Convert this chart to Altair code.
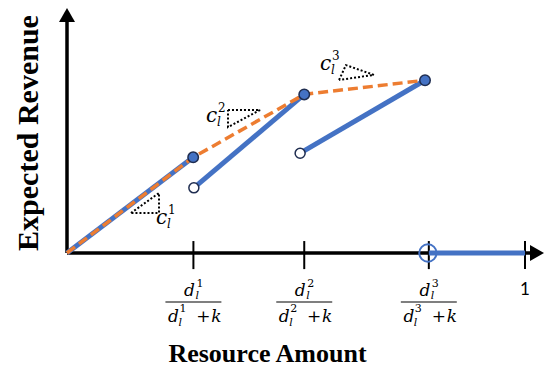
import altair as alt
import pandas as pd

# ---------------- data ----------------
# resource-axis ticks: d_l^i/(d_l^i+k) for i=1..3, and 1
tick_x = [0.276, 0.518, 0.790, 1.0]
frac_idx = ["1", "2", "3"]

# blue piecewise-linear expected revenue segments
seg_id = [1, 1, 2, 2, 3, 3, 4, 4]
seg_x = [0.0, 0.2755, 0.277, 0.518, 0.509, 0.7817, 0.790, 1.0]
seg_y = [0.0, 0.392, 0.267, 0.650, 0.409, 0.708, 0.0, 0.0]

# orange dashed concave envelope
env_x = [0.0, 0.2755, 0.518, 0.7817]
env_y = [0.0, 0.392, 0.650, 0.708]

# closed (filled) and open segment endpoints
closed_x = [0.2755, 0.518, 0.7817]
closed_y = [0.392, 0.650, 0.708]
open_x = [0.277, 0.509]
open_y = [0.267, 0.409]
big_open_x = [0.788]
big_open_y = [0.0]

# dotted slope triangles (closed paths)
tri_id = [1, 1, 1, 1, 2, 2, 2, 2, 3, 3, 3, 3]
tri_ord = [0, 1, 2, 3] * 3
tri_x = [0.1397, 0.2009, 0.2009, 0.1397,
         0.3515, 0.4214, 0.3515, 0.3515,
         0.594, 0.609, 0.670, 0.594]
tri_y = [0.164, 0.246, 0.164, 0.164,
         0.586, 0.586, 0.516, 0.586,
         0.709, 0.770, 0.730, 0.709]

# slope labels c_l^i
slope_x = [0.1943, 0.3035, 0.5524]
slope_y = [0.119, 0.537, 0.750]
slope_idx = ["1", "2", "3"]

# axis extents (with arrowheads)
x_axis_end = 1.0262
y_axis_end = 0.9754
tick_top, tick_bot = 0.049, -0.066
frac_half = 0.0611

# ---------------- styling ----------------
BLUE = "#4472C4"
ORANGE = "#ED7D31"
NAVY = "#1F2D50"
MATH = "DejaVu Serif"
TITLE = "Liberation Serif"

W, H = 536, 361
xs = alt.Scale(domain=[-59 / 458, 477 / 458], nice=False, zero=False)
ys = alt.Scale(domain=[-116 / 244, 245 / 244], nice=False, zero=False)


def X(f="x"):
    return alt.X(f"{f}:Q", scale=xs, axis=None)


def Y(f="y"):
    return alt.Y(f"{f}:Q", scale=ys, axis=None)


segs = pd.DataFrame({"seg": seg_id, "x": seg_x, "y": seg_y})
env = pd.DataFrame({"x": env_x, "y": env_y})
closed = pd.DataFrame({"x": closed_x, "y": closed_y})
opened = pd.DataFrame({"x": open_x, "y": open_y})
bigopen = pd.DataFrame({"x": big_open_x, "y": big_open_y})
tris = pd.DataFrame({"t": tri_id, "o": tri_ord, "x": tri_x, "y": tri_y})
slopes = pd.DataFrame({"x": slope_x, "y": slope_y, "i": slope_idx})
ticks = pd.DataFrame({"x": tick_x, "y": [tick_top] * 4, "y2": [tick_bot] * 4})
fracs = pd.DataFrame({"x": tick_x[:3], "i": frac_idx})
one = pd.DataFrame({"x": tick_x[3:], "lab": ["1"]})
axes_df = pd.DataFrame({"x": [0.0, 0.0], "y": [0.0, 0.0],
                        "x2": [x_axis_end, 0.0], "y2": [0.0, y_axis_end]})

# axes
axes = alt.Chart(axes_df).mark_rule(color="black", strokeWidth=3.5).encode(
    x=X(), y=Y(), x2="x2:Q", y2="y2:Q")
tick_rules = alt.Chart(ticks).mark_rule(color="black", strokeWidth=2).encode(
    x=X(), y=Y(), y2="y2:Q")
arrow_up = alt.Chart(pd.DataFrame({"x": [0.0], "y": [y_axis_end]})).mark_point(
    shape="M0,-0.875L1,0.875L-1,0.875Z", filled=True, color="black",
    size=256, opacity=1).encode(x=X(), y=Y())
arrow_right = alt.Chart(pd.DataFrame({"x": [x_axis_end], "y": [0.0]})).mark_point(
    shape="M0.875,0L-0.875,-1L-0.875,1Z", filled=True, color="black",
    size=256, opacity=1).encode(x=X(), y=Y())

# curves
blue = alt.Chart(segs).mark_line(color=BLUE, strokeWidth=5).encode(
    x=X(), y=Y(), detail="seg:N")
orange = alt.Chart(env).mark_line(color=ORANGE, strokeWidth=3.5,
                                  strokeDash=[10, 5]).encode(x=X(), y=Y())
tri = alt.Chart(tris).mark_line(color="black", strokeWidth=2,
                                strokeDash=[2, 2]).encode(
    x=X(), y=Y(), detail="t:N", order="o:Q")
dots_closed = alt.Chart(closed).mark_point(
    shape="circle", filled=True, fill=BLUE, stroke=NAVY, strokeWidth=1.5,
    size=110, opacity=1).encode(x=X(), y=Y())
dots_open = alt.Chart(opened).mark_point(
    shape="circle", filled=True, fill="white", stroke=NAVY, strokeWidth=1.5,
    size=100, opacity=1).encode(x=X(), y=Y())
dot_big = alt.Chart(bigopen).mark_point(
    shape="circle", filled=False, color=BLUE, strokeWidth=2,
    size=300, opacity=1).encode(x=X(), y=Y())

# slope labels c_l^i
c_txt = alt.Chart(slopes).mark_text(
    text="c", font=MATH, fontStyle="italic", fontSize=20, align="left",
    baseline="alphabetic").encode(x=X(), y=Y())
c_sub = alt.Chart(slopes).mark_text(
    text="l", font=MATH, fontStyle="italic", fontSize=12, align="left",
    baseline="alphabetic", dx=11, dy=4).encode(x=X(), y=Y())
c_sup = alt.Chart(slopes).mark_text(
    font=MATH, fontSize=12, align="left", baseline="alphabetic",
    dx=12, dy=-10).encode(x=X(), y=Y(), text="i:N")


# tick labels: fractions
def txt(df, y, dx, size=17, italic=True, text=None, field=None, align="center"):
    kw = dict(font=MATH, fontSize=size, align=align, baseline="alphabetic", dx=dx)
    if italic:
        kw["fontStyle"] = "italic"
    if text is not None:
        kw["text"] = text
    enc = dict(x=X(), y=alt.value(y))
    if field is not None:
        enc["text"] = field
    return alt.Chart(df).mark_text(**kw).encode(**enc)


num_d = txt(fracs, 288, -4, text="d")
num_l = txt(fracs, 291, 2, size=11, text="l", align="left")
num_i = txt(fracs, 279, 3, size=11, italic=False, field="i:N", align="left")
bars = alt.Chart(fracs).transform_calculate(
    xl=f"datum.x - {frac_half}", xr=f"datum.x + {frac_half}"
).mark_rule(color="black", strokeWidth=1.2).encode(
    x=alt.X("xl:Q", scale=xs, axis=None), x2="xr:Q", y=alt.value(294))
den_d = txt(fracs, 314, -20, text="d")
den_l = txt(fracs, 318, -15, size=11, text="l", align="left")
den_i = txt(fracs, 304, -14, size=11, italic=False, field="i:N", align="left")
den_p = txt(fracs, 314, 10, italic=False, text="+")
den_k = txt(fracs, 314, 23, text="k")
one_lab = alt.Chart(one).mark_text(
    font="Lato", fontSize=17, align="center", baseline="alphabetic").encode(
    x=X(), y=alt.value(287), text="lab:N")

# axis titles
x_title = alt.Chart(pd.DataFrame({"t": ["Resource Amount"]})).mark_text(
    font=TITLE, fontWeight="bold", fontSize=26, align="center",
    baseline="alphabetic").encode(x=alt.value(259.5), y=alt.value(354), text="t:N")
y_title = alt.Chart(pd.DataFrame({"t": ["Expected Revenue"]})).mark_text(
    font=TITLE, fontWeight="bold", fontSize=30, align="center",
    baseline="alphabetic", angle=270).encode(x=alt.value(30), y=alt.value(125), text="t:N")

chart = alt.layer(
    axes, tick_rules, arrow_up, arrow_right,
    blue, orange, tri, dots_closed, dots_open, dot_big,
    c_txt, c_sub, c_sup,
    num_d, num_l, num_i, bars, den_d, den_l, den_i, den_p, den_k, one_lab,
    x_title, y_title,
).properties(
    width=W, height=H, padding=0,
    autosize=alt.AutoSizeParams(type="none"),
).configure_view(stroke=None)

chart.save("out.html", embed_options={"renderer": "svg", "actions": False})
